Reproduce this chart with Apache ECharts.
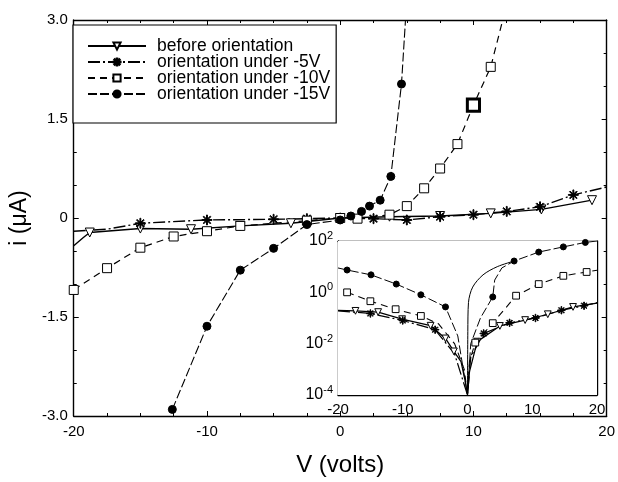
<!DOCTYPE html>
<html>
<head>
<meta charset="utf-8">
<style>
  html, body { margin: 0; height: 100%; background: #fff; }
  #chart { width: 618px; height: 482px; }
</style>
</head>
<body>
<div id="chart"></div>
<script src="https://cdn.jsdelivr.net/npm/echarts@6/dist/echarts.min.js"></script>
<script>
// [V, i (uA), mark]  mark: 0 = line only, 1 = marker, 2 = big marker
var beforeMain = [[-20,-0.42,0],[-19.3,-0.3,0],[-18.8,-0.22,1],[-15,-0.16,1],[-11.2,-0.17,1],[-7.5,-0.12,1],[-3.7,-0.08,1],[0,0,1],[3.7,0.02,1],[7.5,0.03,1],[11.3,0.07,1],[15.1,0.13,1],[18.9,0.27,1]];
var minus5Main = [[-20,-0.2,0],[-17.5,-0.17,0],[-15,-0.08,1],[-10,-0.03,1],[-5,-0.02,1],[-2.5,-0.01,1],[0,0,1],[2.5,-0.01,1],[5,-0.03,1],[7.5,0.02,1],[10,0.05,1],[12.5,0.1,1],[15,0.17,1],[17.5,0.35,1],[20,0.47,0]];
var minus10Main = [[-20,-1.09,1],[-17.5,-0.76,1],[-15,-0.45,1],[-12.5,-0.28,1],[-10,-0.2,1],[-7.5,-0.12,1],[-2.5,-0.04,1],[0,0,1],[1.3,-0.01,1],[3.7,0.05,1],[5,0.18,1],[6.3,0.45,1],[7.5,0.75,1],[8.8,1.12,1],[10,1.71,2],[11.3,2.29,1],[12.2,3.0,0]];
var minus15Main = [[-12.6,-2.9,1],[-10,-1.64,1],[-7.5,-0.79,1],[-5,-0.46,1],[-2.5,-0.1,1],[0,-0.03,1],[0.8,0.03,1],[1.6,0.1,1],[2.2,0.18,1],[3.0,0.27,1],[3.8,0.63,1],[4.6,2.03,1],[4.9,3.0,0]];

// inset: |i| on log scale
var beforeInset = [[-20,0.2,0],[-17.3,0.19,1],[-13.8,0.17,1],[-10.1,0.09,1],[-5.7,0.05,1],[-3.4,0.016,1],[-2.1,0.005,1],[-1,0.002,0],[-0.3,0.0003,0],[0,0.0001,0],[0.3,0.0008,0],[1.5,0.012,1],[5,0.049,1],[8.9,0.083,1],[12.4,0.14,1],[16.3,0.27,1],[20,0.38,0]];
var minus5Inset = [[-20,0.19,0],[-15,0.15,1],[-10,0.08,1],[-5,0.035,1],[-2,0.004,0],[0,0.0001,0],[0.5,0.003,0],[2.5,0.025,1],[6.5,0.065,1],[10.5,0.1,1],[14.5,0.2,1],[18,0.3,1],[20,0.4,0]];
var minus10Inset = [[-18.6,1.0,1],[-15,0.45,1],[-11.1,0.22,1],[-7.2,0.12,1],[-4.5,0.06,0],[-2,0.01,0],[-0.5,0.001,0],[0,0.0001,0],[0.3,0.002,0],[1.2,0.011,1],[3.9,0.063,1],[7.5,0.74,1],[11,2.1,1],[14.8,4.4,1],[18.4,6.2,1],[20,7.3,0]];
var minus15Inset = [[-20,8.9,0],[-18.6,7.4,1],[-14.9,4.8,1],[-11,2.1,1],[-7.2,0.8,1],[-3.4,0.27,1],[-1.5,0.02,0],[0,0.0001,0],[0.5,0.01,0],[2,0.1,0],[3.9,0.66,1],[4.2,3.0,0],[5.3,8.9,0],[7.2,16.6,1],[11,37,1],[14.8,59,1],[18.2,88,1],[20,100,0]];
var steepInset = [[0,0.0001],[0.05,0.03],[0.15,0.4],[0.8,1.6],[2.4,4.8],[4.6,10],[7.2,16.6]];

var seriesNames = ['before orientation', 'orientation under -5V', 'orientation under -10V', 'orientation under -15V'];
var xTicks = [-20, -10, 0, 10, 20];
var yTicks = [-3.0, -1.5, 0, 1.5, 3.0];

var FONT = 'Liberation Sans, Arial, sans-serif';
var triDown = 'path://M0,0 L10,0 L5,9 Z';
var star = 'path://M-0.9,-10 L0.9,-10 L0.9,10 L-0.9,10 Z M-10,-0.9 L10,-0.9 L10,0.9 L-10,0.9 Z M-7.7,-6.4 L-6.4,-7.7 L7.7,6.4 L6.4,7.7 Z M6.4,-7.7 L7.7,-6.4 L-6.4,7.7 L-7.7,6.4 Z';

var styles = [
  { symbol: triDown, size: 9, fill: '#fff', dash: 'solid', width: 1.4 },
  { symbol: star, size: 10, fill: '#000', dash: [12, 3, 2, 3], width: 1.4 },
  { symbol: 'rect', size: 9, fill: '#fff', dash: [7, 5], width: 1.2 },
  { symbol: 'circle', size: 8, fill: '#000', dash: [9, 3], width: 1.1 }
];

function toData(arr, st, scale) {
  return arr.map(function (p) {
    var item = { value: [p[0], p[1]] };
    if (p[2] === 0) item.symbol = 'none';
    if (p[2] === 2) {
      item.symbolSize = st.size * 1.35 * scale;
      item.itemStyle = { borderWidth: 3 };
    }
    return item;
  });
}

function makeSeries(idx, arr, axis, scale) {
  var st = styles[idx];
  return {
    name: seriesNames[idx],
    type: 'line',
    xAxisIndex: axis,
    yAxisIndex: axis,
    data: toData(arr, st, scale),
    symbol: st.symbol,
    symbolSize: st.size * scale,
    showAllSymbol: true,
    animation: false,
    z: axis === 0 ? 2 : 6,
    clip: true,
    lineStyle: { color: '#000', width: st.width * (scale < 1 ? 0.9 : 1), type: st.dash },
    itemStyle: { color: st.fill, borderColor: '#000', borderWidth: 1 }
  };
}

function boxAxis(grid, pos, opts, showLabel) {
  var a = {
    type: opts.type || 'value',
    gridIndex: grid,
    position: pos,
    min: opts.min,
    max: opts.max,
    interval: opts.interval,
    logBase: opts.logBase,
    axisLine: { show: true, onZero: false, lineStyle: { color: '#000', width: 1.4 } },
    axisTick: { show: true, inside: true, length: 5, lineStyle: { color: '#000' } },
    minorTick: { show: opts.minor > 0, splitNumber: opts.minor || 5, length: 3, lineStyle: { color: '#000' } },
    splitLine: { show: false },
    axisLabel: { show: showLabel, color: '#000', fontFamily: FONT, fontSize: 15, margin: opts.margin || 5, formatter: opts.formatter, rich: opts.rich }
  };
  if (showLabel && opts.name) {
    a.name = opts.name;
    a.nameLocation = 'middle';
    a.nameGap = opts.nameGap;
    a.nameTextStyle = { color: '#000', fontFamily: FONT, fontSize: opts.nameSize };
  }
  return a;
}

var mainX = { min: xTicks[0], max: xTicks[4], interval: 10, minor: 4, name: 'V (volts)', nameGap: 37, nameSize: 24, margin: 8 };
var mainY = { min: yTicks[0], max: yTicks[4], interval: 1.5, minor: 3, name: 'i (\u03bcA)', nameGap: 40, nameSize: 23, margin: 6,
  formatter: function (v) { return v === 0 ? '0' : v.toFixed(1); } };
var insetX = { min: -20, max: 20, interval: 10, minor: 2, margin: 7 };
var insetY = { type: 'log', min: 1e-4, max: 1e2, logBase: 10, minor: 0, margin: 5,
  formatter: function (v) {
    var e = Math.round(Math.log(v) / Math.LN10);
    if (e % 2 !== 0) return '';
    return '{b|10}{s|' + e + '}';
  },
  rich: { b: { fontSize: 16, fontFamily: FONT, color: '#000' }, s: { fontSize: 11, fontFamily: FONT, color: '#000', padding: [0, 0, 10, 0] } } };

var series = [];
series.push(makeSeries(0, beforeMain, 0, 1));
series.push(makeSeries(1, minus5Main, 0, 1));
series.push(makeSeries(2, minus10Main, 0, 1));
series.push(makeSeries(3, minus15Main, 0, 1));
series.push(makeSeries(0, beforeInset, 2, 0.75));
series.push(makeSeries(1, minus5Inset, 2, 0.75));
series.push(makeSeries(2, minus10Inset, 2, 0.75));
series.push(makeSeries(3, minus15Inset, 2, 0.75));
series.push({
  name: 'fit', type: 'line', xAxisIndex: 2, yAxisIndex: 2, data: steepInset, symbol: 'none', smooth: 0.3,
  animation: false, z: 6, lineStyle: { color: '#000', width: 1 }
});

var chart = echarts.init(document.getElementById('chart'), null, { renderer: 'canvas' });
chart.setOption({
  backgroundColor: '#fff',
  animation: false,
  textStyle: { fontFamily: FONT },
  grid: [
    { left: 72, right: 10, top: 20, bottom: 65 },
    { left: 338, right: 21, top: 241, bottom: 87, show: true, backgroundColor: '#fff', borderWidth: 0, z: 4 }
  ],
  legend: {
    data: seriesNames,
    orient: 'vertical',
    left: 73,
    top: 25,
    padding: [12, 6, 20, 14],
    itemGap: -2,
    itemWidth: 58,
    itemHeight: 9,
    borderColor: '#000',
    borderWidth: 1.2,
    backgroundColor: '#fff',
    selectedMode: false,
    textStyle: { color: '#000', fontFamily: FONT, fontSize: 17.5, lineHeight: 16, padding: [0, 0, 0, 6] }
  },
  xAxis: [
    boxAxis(0, 'bottom', mainX, true),
    boxAxis(0, 'top', mainX, false),
    boxAxis(1, 'bottom', insetX, true),
    boxAxis(1, 'top', insetX, false)
  ],
  yAxis: [
    boxAxis(0, 'left', mainY, true),
    boxAxis(0, 'right', mainY, false),
    boxAxis(1, 'left', insetY, true),
    boxAxis(1, 'right', insetY, false)
  ],
  series: series
});
</script>
</body>
</html>
